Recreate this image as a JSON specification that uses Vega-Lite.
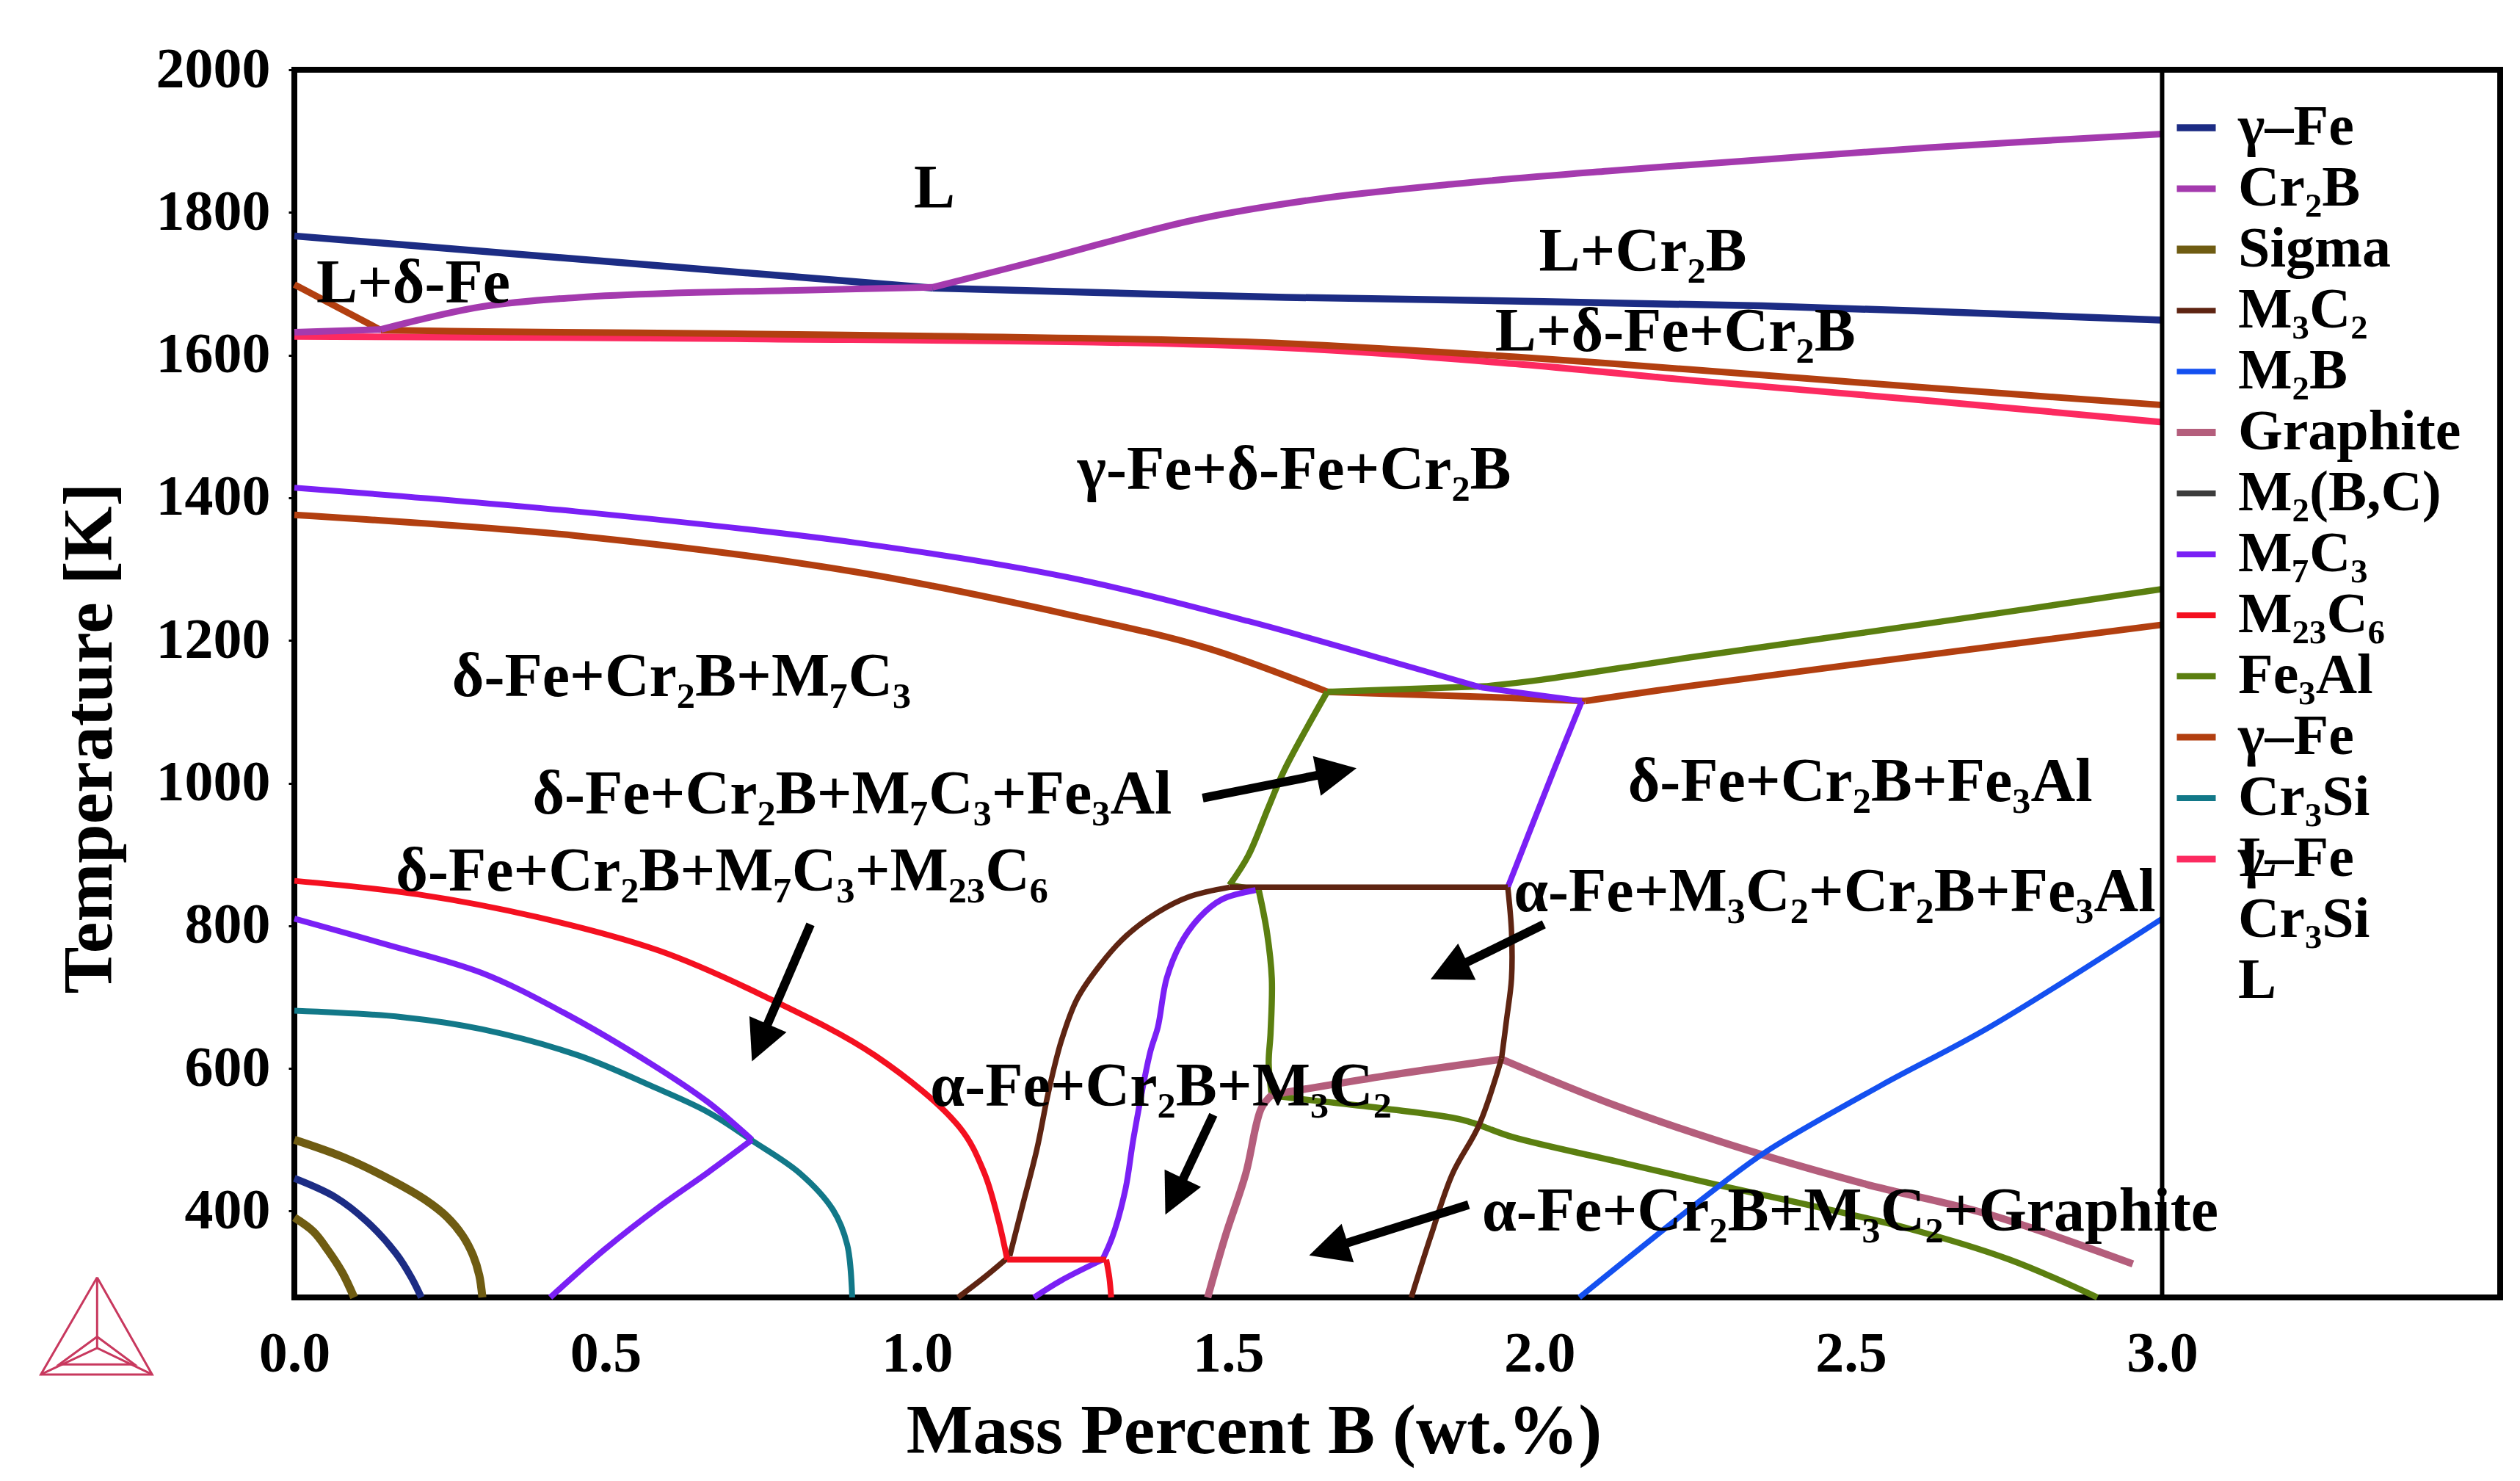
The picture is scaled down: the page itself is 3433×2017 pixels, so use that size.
{
"$schema": "https://vega.github.io/schema/vega-lite/v6.json",
"width": 3005,
"height": 1672,
"autosize": {"type": "none"},
"padding": {"left": 401, "top": 95, "right": 27, "bottom": 250},
"background": "white",
"config": {"view": {"stroke": "black", "strokeWidth": 8}, "font": "Liberation Serif"},
"datasets": {
"curves": [
{"s":"pk","p":"γ–Fe#3","x":0,"y":1626},{"s":"pk","p":"γ–Fe#3","x":0.707,"y":1623},{"s":"pk","p":"γ–Fe#3","x":1.549,"y":1612},{"s":"pk","p":"γ–Fe#3","x":1.97,"y":1587},{"s":"pk","p":"γ–Fe#3","x":2.239,"y":1565},{"s":"pk","p":"γ–Fe#3","x":2.626,"y":1536},{"s":"pk","p":"γ–Fe#3","x":3.0,"y":1506},
{"s":"r1a","p":"γ–Fe#2","x":0,"y":1699},{"s":"r1a","p":"γ–Fe#2","x":0.139,"y":1635},
{"s":"r1b","p":"γ–Fe#2","x":0.139,"y":1635},{"s":"r1b","p":"γ–Fe#2","x":0.302,"y":1633},{"s":"r1b","p":"γ–Fe#2","x":0.707,"y":1630},{"s":"r1b","p":"γ–Fe#2","x":1.077,"y":1626},{"s":"r1b","p":"γ–Fe#2","x":1.549,"y":1618},{"s":"r1b","p":"γ–Fe#2","x":1.97,"y":1597},{"s":"r1b","p":"γ–Fe#2","x":2.239,"y":1580},{"s":"r1b","p":"γ–Fe#2","x":2.626,"y":1554},{"s":"r1b","p":"γ–Fe#2","x":3.0,"y":1530},
{"s":"g1a","p":"γ–Fe","x":0,"y":1767},{"s":"g1a","p":"γ–Fe","x":1.025,"y":1694},
{"s":"g1b","p":"γ–Fe","x":1.025,"y":1694},{"s":"g1b","p":"γ–Fe","x":1.593,"y":1681},{"s":"g1b","p":"γ–Fe","x":2.357,"y":1669},{"s":"g1b","p":"γ–Fe","x":3.0,"y":1649},
{"s":"c1a","p":"Cr₂B","x":0,"y":1632},{"s":"c1a","p":"Cr₂B","x":0.139,"y":1636},
{"s":"c1b","p":"Cr₂B","x":0.139,"y":1636},{"s":"c1b","p":"Cr₂B","x":0.302,"y":1668},{"s":"c1b","p":"Cr₂B","x":0.457,"y":1681},{"s":"c1b","p":"Cr₂B","x":0.612,"y":1687},{"s":"c1b","p":"Cr₂B","x":0.818,"y":1691},{"s":"c1b","p":"Cr₂B","x":1.025,"y":1695},
{"s":"c1c","p":"Cr₂B","x":1.025,"y":1695},{"s":"c1c","p":"Cr₂B","x":1.206,"y":1735},{"s":"c1c","p":"Cr₂B","x":1.443,"y":1789},{"s":"c1c","p":"Cr₂B","x":1.645,"y":1819},{"s":"c1c","p":"Cr₂B","x":1.864,"y":1840},{"s":"c1c","p":"Cr₂B","x":2.109,"y":1858},{"s":"c1c","p":"Cr₂B","x":2.357,"y":1874},{"s":"c1c","p":"Cr₂B","x":2.626,"y":1891},{"s":"c1c","p":"Cr₂B","x":3.0,"y":1910},
{"s":"r2a","p":"γ–Fe#2","x":0,"y":1376},{"s":"r2a","p":"γ–Fe#2","x":0.451,"y":1347},{"s":"r2a","p":"γ–Fe#2","x":0.902,"y":1296},{"s":"r2a","p":"γ–Fe#2","x":1.24,"y":1237},{"s":"r2a","p":"γ–Fe#2","x":1.467,"y":1189},{"s":"r2a","p":"γ–Fe#2","x":1.659,"y":1128},
{"s":"r2b","p":"γ–Fe#2","x":1.659,"y":1128},{"s":"r2b","p":"γ–Fe#2","x":1.906,"y":1121},{"s":"r2b","p":"γ–Fe#2","x":2.073,"y":1115},
{"s":"r2c","p":"γ–Fe#2","x":2.073,"y":1115},{"s":"r2c","p":"γ–Fe#2","x":2.24,"y":1136},{"s":"r2c","p":"γ–Fe#2","x":2.626,"y":1180},{"s":"r2c","p":"γ–Fe#2","x":3.0,"y":1222},
{"s":"f1a","p":"Fe₃Al","x":1.659,"y":1128},{"s":"f1a","p":"Fe₃Al","x":1.916,"y":1136},
{"s":"f1b","p":"Fe₃Al","x":1.916,"y":1136},{"s":"f1b","p":"Fe₃Al","x":2.004,"y":1145},{"s":"f1b","p":"Fe₃Al","x":2.24,"y":1176},{"s":"f1b","p":"Fe₃Al","x":2.626,"y":1224},{"s":"f1b","p":"Fe₃Al","x":3.0,"y":1272},
{"s":"v1a","p":"M₇C₃","x":0,"y":1414},{"s":"v1a","p":"M₇C₃","x":0.451,"y":1381},{"s":"v1a","p":"M₇C₃","x":0.902,"y":1337},{"s":"v1a","p":"M₇C₃","x":1.24,"y":1289},{"s":"v1a","p":"M₇C₃","x":1.532,"y":1227},{"s":"v1a","p":"M₇C₃","x":1.768,"y":1169},{"s":"v1a","p":"M₇C₃","x":1.907,"y":1134},
{"s":"v1b","p":"M₇C₃","x":1.907,"y":1134},{"s":"v1b","p":"M₇C₃","x":2.068,"y":1115},
{"s":"v1c","p":"M₇C₃","x":2.068,"y":1115},{"s":"v1c","p":"M₇C₃","x":2.023,"y":1018},{"s":"v1c","p":"M₇C₃","x":1.949,"y":854},
{"s":"f2a","p":"Fe₃Al","x":1.659,"y":1128},{"s":"f2a","p":"Fe₃Al","x":1.59,"y":1018},{"s":"f2a","p":"Fe₃Al","x":1.565,"y":967},{"s":"f2a","p":"Fe₃Al","x":1.532,"y":898},{"s":"f2a","p":"Fe₃Al","x":1.502,"y":857},
{"s":"f2b","p":"Fe₃Al","x":1.502,"y":857},{"s":"f2b","p":"Fe₃Al","x":1.549,"y":850},
{"s":"f2c","p":"Fe₃Al","x":1.549,"y":850},{"s":"f2c","p":"Fe₃Al","x":1.562,"y":792},{"s":"f2c","p":"Fe₃Al","x":1.57,"y":726},{"s":"f2c","p":"Fe₃Al","x":1.568,"y":650},{"s":"f2c","p":"Fe₃Al","x":1.565,"y":607},{"s":"f2c","p":"Fe₃Al","x":1.57,"y":562},
{"s":"f2d","p":"Fe₃Al","x":1.57,"y":562},{"s":"f2d","p":"Fe₃Al","x":1.638,"y":555},{"s":"f2d","p":"Fe₃Al","x":1.748,"y":544},{"s":"f2d","p":"Fe₃Al","x":1.876,"y":528},{"s":"f2d","p":"Fe₃Al","x":1.956,"y":504},{"s":"f2d","p":"Fe₃Al","x":2.122,"y":470},{"s":"f2d","p":"Fe₃Al","x":2.275,"y":439},{"s":"f2d","p":"Fe₃Al","x":2.595,"y":375},{"s":"f2d","p":"Fe₃Al","x":2.755,"y":332},{"s":"f2d","p":"Fe₃Al","x":2.896,"y":279},
{"s":"gra","p":"Graphite","x":1.467,"y":279},{"s":"gra","p":"Graphite","x":1.495,"y":364},{"s":"gra","p":"Graphite","x":1.528,"y":452},{"s":"gra","p":"Graphite","x":1.553,"y":544},{"s":"gra","p":"Graphite","x":1.57,"y":563},
{"s":"grb","p":"Graphite","x":1.57,"y":563},{"s":"grb","p":"Graphite","x":1.748,"y":589},{"s":"grb","p":"Graphite","x":1.939,"y":613},
{"s":"grc","p":"Graphite","x":1.939,"y":613},{"s":"grc","p":"Graphite","x":2.122,"y":548},{"s":"grc","p":"Graphite","x":2.339,"y":484},{"s":"grc","p":"Graphite","x":2.523,"y":438},{"s":"grc","p":"Graphite","x":2.723,"y":395},{"s":"grc","p":"Graphite","x":2.953,"y":326},
{"s":"m1a","p":"M₃C₂","x":1.066,"y":279},{"s":"m1a","p":"M₃C₂","x":1.108,"y":307},{"s":"m1a","p":"M₃C₂","x":1.149,"y":337},
{"s":"m1b","p":"M₃C₂","x":1.149,"y":337},{"s":"m1b","p":"M₃C₂","x":1.17,"y":409},{"s":"m1b","p":"M₃C₂","x":1.193,"y":488},{"s":"m1b","p":"M₃C₂","x":1.211,"y":566},{"s":"m1b","p":"M₃C₂","x":1.232,"y":639},{"s":"m1b","p":"M₃C₂","x":1.257,"y":697},{"s":"m1b","p":"M₃C₂","x":1.296,"y":747},{"s":"m1b","p":"M₃C₂","x":1.335,"y":785},{"s":"m1b","p":"M₃C₂","x":1.387,"y":819},{"s":"m1b","p":"M₃C₂","x":1.438,"y":841},{"s":"m1b","p":"M₃C₂","x":1.502,"y":854},
{"s":"m1c","p":"M₃C₂","x":1.502,"y":854},{"s":"m1c","p":"M₃C₂","x":1.949,"y":854},
{"s":"m1d","p":"M₃C₂","x":1.949,"y":854},{"s":"m1d","p":"M₃C₂","x":1.955,"y":792},{"s":"m1d","p":"M₃C₂","x":1.955,"y":726},{"s":"m1d","p":"M₃C₂","x":1.947,"y":668},{"s":"m1d","p":"M₃C₂","x":1.939,"y":614},
{"s":"m1e","p":"M₃C₂","x":1.939,"y":614},{"s":"m1e","p":"M₃C₂","x":1.903,"y":521},{"s":"m1e","p":"M₃C₂","x":1.86,"y":452},{"s":"m1e","p":"M₃C₂","x":1.825,"y":364},{"s":"m1e","p":"M₃C₂","x":1.794,"y":279},
{"s":"v2a","p":"M₇C₃","x":1.544,"y":850},{"s":"v2a","p":"M₇C₃","x":1.49,"y":837},{"s":"v2a","p":"M₇C₃","x":1.454,"y":812},{"s":"v2a","p":"M₇C₃","x":1.423,"y":774},{"s":"v2a","p":"M₇C₃","x":1.401,"y":726},{"s":"v2a","p":"M₇C₃","x":1.387,"y":658},{"s":"v2a","p":"M₇C₃","x":1.375,"y":624},{"s":"v2a","p":"M₇C₃","x":1.348,"y":503},{"s":"v2a","p":"M₇C₃","x":1.335,"y":431},{"s":"v2a","p":"M₇C₃","x":1.314,"y":364},{"s":"v2a","p":"M₇C₃","x":1.298,"y":332},
{"s":"v2b","p":"M₇C₃","x":1.298,"y":332},{"s":"v2b","p":"M₇C₃","x":1.232,"y":303},{"s":"v2b","p":"M₇C₃","x":1.188,"y":279},
{"s":"rda","p":"M₂₃C₆","x":0,"y":863},{"s":"rda","p":"M₂₃C₆","x":0.199,"y":844},{"s":"rda","p":"M₂₃C₆","x":0.391,"y":812},{"s":"rda","p":"M₂₃C₆","x":0.586,"y":765},{"s":"rda","p":"M₂₃C₆","x":0.753,"y":702},{"s":"rda","p":"M₂₃C₆","x":0.933,"y":618},{"s":"rda","p":"M₂₃C₆","x":1.068,"y":518},{"s":"rda","p":"M₂₃C₆","x":1.108,"y":454},{"s":"rda","p":"M₂₃C₆","x":1.131,"y":387},{"s":"rda","p":"M₂₃C₆","x":1.145,"y":332},
{"s":"rdb","p":"M₂₃C₆","x":1.145,"y":332},{"s":"rdb","p":"M₂₃C₆","x":1.304,"y":332},
{"s":"rdc","p":"M₂₃C₆","x":1.304,"y":332},{"s":"rdc","p":"M₂₃C₆","x":1.309,"y":307},{"s":"rdc","p":"M₂₃C₆","x":1.312,"y":279},
{"s":"t1","p":"Cr₃Si","x":0,"y":681},{"s":"t1","p":"Cr₃Si","x":0.173,"y":672},{"s":"t1","p":"Cr₃Si","x":0.301,"y":655},{"s":"t1","p":"Cr₃Si","x":0.457,"y":618},{"s":"t1","p":"Cr₃Si","x":0.572,"y":576},{"s":"t1","p":"Cr₃Si","x":0.664,"y":539},{"s":"t1","p":"Cr₃Si","x":0.735,"y":499},{"s":"t1","p":"Cr₃Si","x":0.812,"y":453},{"s":"t1","p":"Cr₃Si","x":0.865,"y":402},{"s":"t1","p":"Cr₃Si","x":0.888,"y":353},{"s":"t1","p":"Cr₃Si","x":0.896,"y":279},
{"s":"v3a","p":"M₇C₃","x":0,"y":810},{"s":"v3a","p":"M₇C₃","x":0.147,"y":774},{"s":"v3a","p":"M₇C₃","x":0.301,"y":734},{"s":"v3a","p":"M₇C₃","x":0.431,"y":679},{"s":"v3a","p":"M₇C₃","x":0.572,"y":607},{"s":"v3a","p":"M₇C₃","x":0.664,"y":553},{"s":"v3a","p":"M₇C₃","x":0.735,"y":500},
{"s":"v3b","p":"M₇C₃","x":0.735,"y":500},{"s":"v3b","p":"M₇C₃","x":0.664,"y":454},{"s":"v3b","p":"M₇C₃","x":0.586,"y":406},{"s":"v3b","p":"M₇C₃","x":0.498,"y":346},{"s":"v3b","p":"M₇C₃","x":0.411,"y":279},
{"s":"s1","p":"Sigma","x":0,"y":500},{"s":"s1","p":"Sigma","x":0.083,"y":474},{"s":"s1","p":"Sigma","x":0.161,"y":441},{"s":"s1","p":"Sigma","x":0.21,"y":416},{"s":"s1","p":"Sigma","x":0.245,"y":392},{"s":"s1","p":"Sigma","x":0.27,"y":366},{"s":"s1","p":"Sigma","x":0.287,"y":338},{"s":"s1","p":"Sigma","x":0.297,"y":310},{"s":"s1","p":"Sigma","x":0.302,"y":279},
{"s":"s2","p":"Sigma","x":0,"y":391},{"s":"s2","p":"Sigma","x":0.031,"y":371},{"s":"s2","p":"Sigma","x":0.054,"y":345},{"s":"s2","p":"Sigma","x":0.077,"y":314},{"s":"s2","p":"Sigma","x":0.096,"y":279},
{"s":"g2","p":"γ–Fe","x":0,"y":446},{"s":"g2","p":"γ–Fe","x":0.065,"y":420},{"s":"g2","p":"γ–Fe","x":0.117,"y":385},{"s":"g2","p":"γ–Fe","x":0.163,"y":341},{"s":"g2","p":"γ–Fe","x":0.188,"y":307},{"s":"g2","p":"γ–Fe","x":0.204,"y":279},
{"s":"b1","p":"M₂B","x":2.064,"y":279},{"s":"b1","p":"M₂B","x":2.288,"y":435},{"s":"b1","p":"M₂B","x":2.365,"y":484},{"s":"b1","p":"M₂B","x":2.548,"y":576},{"s":"b1","p":"M₂B","x":2.723,"y":658},{"s":"b1","p":"M₂B","x":3.0,"y":810}
],
"labels": [
{"t":"L","x":1.028,"y":1832},
{"t":"L+δ-Fe","x":0.191,"y":1699},
{"t":"L+Cr₂B","x":2.166,"y":1744},
{"t":"L+δ-Fe+Cr₂B","x":2.218,"y":1632},
{"t":"γ-Fe+δ-Fe+Cr₂B","x":1.606,"y":1438},
{"t":"δ-Fe+Cr₂B+M₇C₃","x":0.622,"y":1148},
{"t":"δ-Fe+Cr₂B+M₇C₃+Fe₃Al","x":0.896,"y":983},
{"t":"δ-Fe+Cr₂B+Fe₃Al","x":2.515,"y":1001},
{"t":"δ-Fe+Cr₂B+M₇C₃+M₂₃C₆","x":0.687,"y":875},
{"t":"α-Fe+M₃C₂+Cr₂B+Fe₃Al","x":2.474,"y":846},
{"t":"α-Fe+Cr₂B+M₃C₂","x":1.392,"y":573},
{"t":"α-Fe+Cr₂B+M₃C₂+Graphite","x":2.499,"y":398}
],
"legendText": [{"t":"L","x":3.1235,"y":893}],
"divider": [{"x":3.0,"y":279,"y2":2000}],
"shafts": [
{"x":1.459,"y":979,"x2":1.655,"y2":1013},
{"x":0.829,"y":802,"x2":0.755,"y2":652},
{"x":2.007,"y":802,"x2":1.872,"y2":744},
{"x":1.476,"y":535,"x2":1.422,"y2":435},
{"x":1.886,"y":409,"x2":1.679,"y2":352}
],
"heads": [
{"x":1.706,"y":1021,"a":78.8},
{"x":0.735,"y":610,"a":203.3},
{"x":1.825,"y":725,"a":244.1},
{"x":1.399,"y":395,"a":205.6},
{"x":1.63,"y":338,"a":252.4}
],
"logo": [
{"s":"o","x":-0.3168,"y":307},{"s":"o","x":-0.4072,"y":171},{"s":"o","x":-0.2284,"y":171},{"s":"o","x":-0.3168,"y":307},
{"s":"a","x":-0.3168,"y":307},{"s":"a","x":-0.3168,"y":208},
{"s":"b","x":-0.4072,"y":171},{"s":"b","x":-0.3168,"y":208},{"s":"b","x":-0.2284,"y":171},
{"s":"i","x":-0.3168,"y":224},{"s":"i","x":-0.3777,"y":185},{"s":"i","x":-0.2567,"y":185},{"s":"i","x":-0.3168,"y":224}
]
},
"encoding": {
"x": {"field": "x", "type": "quantitative",
 "scale": {"domain": [0, 3.543], "nice": false, "zero": false},
 "axis": {"title": "Mass Percent B (wt.%)", "values": [0, 0.5, 1, 1.5, 2, 2.5, 3], "format": ".1f", "grid": false, "domain": false, "ticks": false, "tickSize": 0,
  "labelFont": "Liberation Serif", "labelFontSize": 78, "labelFontWeight": "bold", "labelColor": "black", "labelPadding": 38, "labelDx": -18, "labelFlush": false, "labelOverlap": false,
  "titleFont": "Liberation Serif", "titleFontSize": 96, "titleFontWeight": "bold", "titleColor": "black", "titleX": 1307, "titleY": 211, "titleAlign": "center", "titleBaseline": "alphabetic"}},
"y": {"field": "y", "type": "quantitative",
 "scale": {"domain": [279, 2000], "nice": false, "zero": false},
 "axis": {"title": "Temperature [K]", "values": [400, 600, 800, 1000, 1200, 1400, 1600, 1800, 2000], "format": "d", "grid": false, "domain": false, "tickSize": 8, "tickWidth": 3, "tickColor": "black",
  "labelFont": "Liberation Serif", "labelFontSize": 78, "labelFontWeight": "bold", "labelColor": "black", "labelPadding": 25, "labelFlush": false, "labelOverlap": false,
  "titleFont": "Liberation Serif", "titleFontSize": 96, "titleFontWeight": "bold", "titleColor": "black", "titleAngle": -90, "titleX": -250, "titleY": 910, "titleAlign": "center", "titleBaseline": "alphabetic"}}
},
"layer": [
{"data": {"name": "logo"}, "mark": {"type": "line", "color": "#c8385e", "strokeWidth": 3}, "encoding": {"detail": {"field": "s"}, "order": {"value": null}}},
{"data": {"name": "curves"}, "mark": {"type": "line", "strokeJoin": "round", "strokeCap": "butt", "interpolate": "catmull-rom"},
 "encoding": {
  "color": {"field": "p", "type": "nominal",
   "scale": {"domain": ["γ–Fe","Cr₂B","Sigma","M₃C₂","M₂B","Graphite","M₂(B,C)","M₇C₃","M₂₃C₆","Fe₃Al","γ–Fe#2","Cr₃Si","γ–Fe#3","Cr₃Si#2","L#"],
    "range": ["#1c2c84","#a43aae","#6f5c12","#5e2412","#1450f0","#b45e7c","#3c3c3c","#7a20f5","#f41020","#5b7f10","#b23f10","#127888","#fc2a60","transparent","transparent"]},
   "legend": {"orient": "none", "legendX": 2552, "legendY": 40, "title": null, "padding": 0, "symbolType": "stroke", "symbolSize": 2809, "symbolStrokeWidth": 9,
    "labelFont": "Liberation Serif", "labelFontSize": 78, "labelFontWeight": "bold", "labelColor": "black", "labelOffset": 18, "rowPadding": 5, "labelLimit": 0,
    "labelExpr": "indexof(datum.label,'#') >= 0 ? slice(datum.label, 0, indexof(datum.label,'#')) : datum.label"}},
  "strokeWidth": {"field": "p", "type": "nominal", "legend": null,
   "scale": {"type": "ordinal", "domain": ["γ–Fe","Cr₂B","Sigma","M₃C₂","M₂B","Graphite","M₂(B,C)","M₇C₃","M₂₃C₆","Fe₃Al","γ–Fe#2","Cr₃Si","γ–Fe#3","Cr₃Si#2","L#"],
    "range": [9.5, 9, 11, 7.5, 7.5, 10, 8, 8, 8, 8.5, 9, 8, 9, 1, 1]}},
  "detail": {"field": "s"},
  "order": {"value": null}}},
{"data": {"name": "divider"}, "mark": {"type": "rule", "color": "black", "strokeWidth": 6}, "encoding": {"y2": {"field": "y2"}}},
{"data": {"name": "labels"}, "mark": {"type": "text", "font": "Liberation Serif", "fontSize": 84, "fontWeight": "bold", "color": "black", "align": "center", "baseline": "middle"}, "encoding": {"text": {"field": "t"}}},
{"data": {"name": "legendText"}, "mark": {"type": "text", "font": "Liberation Serif", "fontSize": 78, "fontWeight": "bold", "color": "black", "align": "left", "baseline": "middle"}, "encoding": {"text": {"field": "t"}}},
{"data": {"name": "shafts"}, "mark": {"type": "rule", "color": "black", "strokeWidth": 12}, "encoding": {"x2": {"field": "x2"}, "y2": {"field": "y2"}}},
{"data": {"name": "heads"}, "mark": {"type": "point", "shape": "M0,0L-1,2L1,2Z", "filled": true, "color": "black", "opacity": 1, "size": 3025, "strokeWidth": 0}, "encoding": {"angle": {"field": "a", "type": "quantitative", "scale": null}}}
]
}
